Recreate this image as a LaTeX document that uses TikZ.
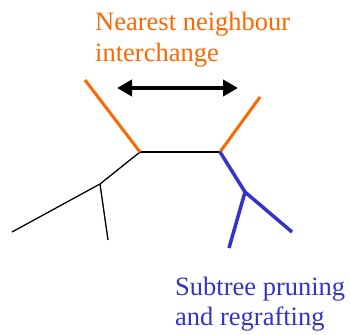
\documentclass[tikz,border=0pt]{standalone}
\usepackage{fontspec}
\setmainfont{Liberation Serif}
\usetikzlibrary{arrows.meta}
\definecolor{nniorange}{RGB}{255,102,0}
\definecolor{sprblue}{RGB}{51,51,204}
\begin{document}
\begin{tikzpicture}[x=1pt,y=-1pt,
  blackedge/.style={draw=black,line width=1.3pt},
  orangeedge/.style={draw=nniorange,line width=3pt},
  blueedge/.style={draw=sprblue,line width=3.5pt},
  swaparrow/.style={draw=black,line width=4pt,{Triangle[length=15pt,width=16pt]}-{Triangle[length=15pt,width=16pt]}},
  lbl/.style={anchor=base west,inner sep=0pt,font=\fontsize{26.5}{31}\selectfont}]
\useasboundingbox (0,0) rectangle (350,334);
% internal nodes
\coordinate (u) at (140,152);
\coordinate (v) at (220,152);
\coordinate (w) at (100,184);
\coordinate (z) at (245,192);
% leaves
\coordinate (a) at (85,80);
\coordinate (b) at (260,97);
\coordinate (c) at (12,232);
\coordinate (d) at (108,240);
\coordinate (e) at (229,248);
\coordinate (f) at (292,232);
% arrow ends
\coordinate (p) at (117,88);
\coordinate (q) at (238,88);
\draw[blackedge] (u) -- (v);
\draw[blackedge] (u) -- (w);
\draw[blackedge] (w) -- (c);
\draw[blackedge] (w) -- (d);
\draw[orangeedge] (a) -- (u);
\draw[orangeedge] (b) -- (v);
\draw[blueedge] (v) -- (z);
\draw[blueedge] (z) -- (e);
\draw[blueedge] (z) -- (f);
\draw[swaparrow] (p) -- (q);
\node[lbl,text=nniorange] (t1) at (95,31) {Nearest neighbour};
\node[lbl,text=nniorange] (t2) at (95,62) {interchange};
\node[lbl,text=sprblue] (t3) at (175,295) {Subtree pruning};
\node[lbl,text=sprblue] (t4) at (175,325) {and regrafting};
\end{tikzpicture}
\end{document}
